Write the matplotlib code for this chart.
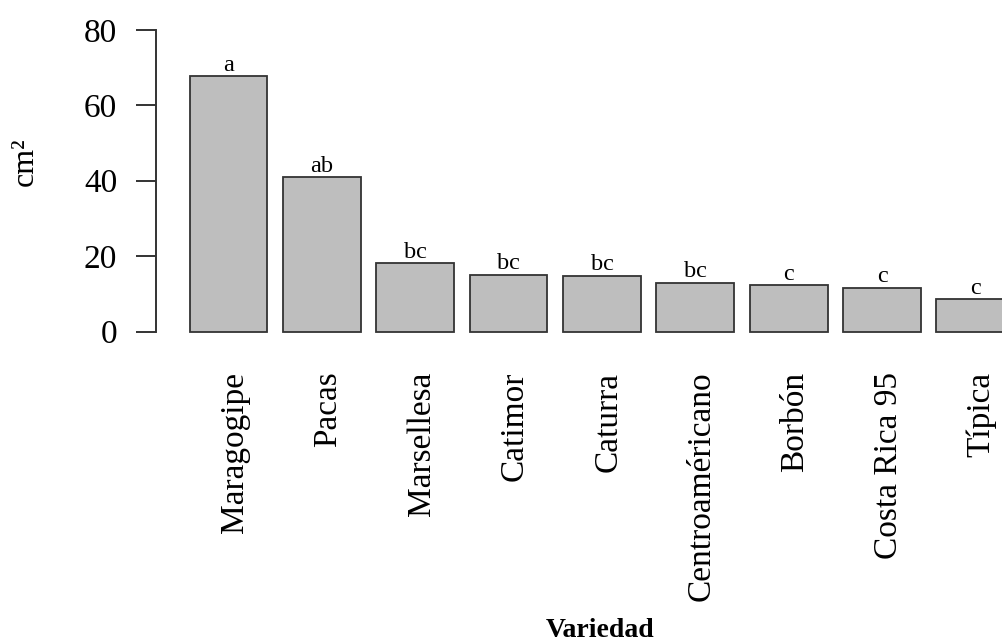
import numpy as np
import matplotlib
matplotlib.use("Agg")
import matplotlib.pyplot as plt
import matplotlib.transforms as mtransforms

plt.rcParams['font.family'] = ['Liberation Serif', 'DejaVu Serif']

# Área foliar media por variedad y letras de significancia
variedades = ["Maragogipe", "Pacas", "Marsellesa", "Catimor", "Caturra",
              "Centroaméricano", "Borbón", "Costa Rica 95", "Típica"]
area = [67.7, 40.9, 18.1, 15.0, 14.7, 12.9, 12.3, 11.6, 8.5]
letras = ["a", "ab", "bc", "bc", "bc", "bc", "c", "c", "c"]
yticks = [0, 20, 40, 60, 80]

W, H = 1002, 644
fig = plt.figure(figsize=(W / 100, H / 100), dpi=100)

# Posiciones tipo barplot de R: ancho 1, espacio 0.2
n = len(area)
left = 0.2 + 1.2 * np.arange(n)
centros = left + 0.5
xmin = 0.2 - 0.04 * (1.2 * n)
px_unit = 77.8
xmax = xmin + (W - 156) / px_unit

ymin, ymax = -3.2, 83.2
ax_bottom_px = 343.6
ax_top_px = 17.9
ax = fig.add_axes([156 / W, (H - ax_bottom_px) / H, (W - 156) / W,
                   (ax_bottom_px - ax_top_px) / H])
ax.set_xlim(xmin, xmax)
ax.set_ylim(ymin, ymax)

ax.bar(centros, area, width=1.0, color="#bebebe", edgecolor="#333333",
       linewidth=1.3)

for xc, h, l in zip(centros, area, letras):
    ax.text(xc, h + 1.5, l, ha="center", va="baseline", fontsize=17.5,
            color="black", clip_on=False)

# Eje Y
for s in ["top", "right", "bottom"]:
    ax.spines[s].set_visible(False)
ax.spines["left"].set_bounds(0, 80)
ax.spines["left"].set_color("#333333")
ax.spines["left"].set_linewidth(1.4)
ax.set_yticks(yticks)
ax.set_yticklabels([str(t) for t in yticks], fontsize=24)
ax.tick_params(axis="y", length=14.4, width=1.4, color="#333333", pad=13.5)

# Etiquetas de variedades (verticales)
ax.set_xticks([])
trans = mtransforms.blended_transform_factory(ax.transData, ax.transAxes)
y_lab = -(371.7 - ax_bottom_px) / (ax_bottom_px - ax_top_px)
for xc, nombre in zip(centros, variedades):
    ax.text(xc + 0.08, y_lab, nombre, rotation=90, ha="center", va="top",
            fontsize=24, transform=trans, clip_on=False)

fig.text(33 / W, 1 - 162 / H, "cm²", rotation=90, rotation_mode="anchor",
         ha="center", va="baseline", fontsize=23)
fig.text(600 / W, 1 / H, "Variedad", ha="center", va="bottom",
         fontsize=20, fontweight="bold")

fig.savefig("out.png", dpi=100)
